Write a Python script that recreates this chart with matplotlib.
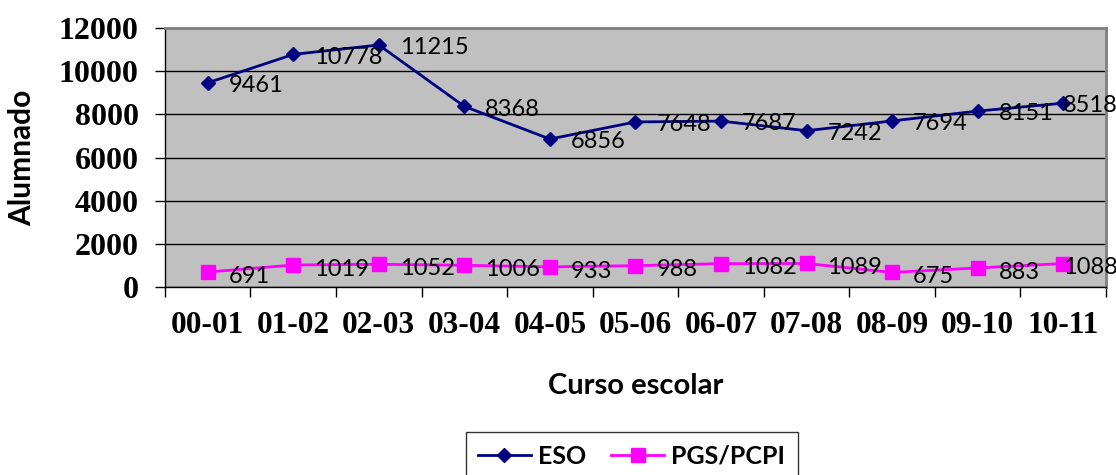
import matplotlib
matplotlib.use('Agg')
import matplotlib.pyplot as plt
import numpy as np

cursos = ['00-01', '01-02', '02-03', '03-04', '04-05', '05-06',
          '06-07', '07-08', '08-09', '09-10', '10-11']
eso = [9461, 10778, 11215, 8368, 6856, 7648, 7687, 7242, 7694, 8151, 8518]
pcpi = [691, 1019, 1052, 1006, 933, 988, 1082, 1089, 675, 883, 1088]

serif = ['Liberation Serif', 'DejaVu Serif']
sans = ['Lato', 'Open Sans', 'DejaVu Sans']

fig = plt.figure(figsize=(11.16, 4.75), dpi=100)
ax = fig.add_axes([0.1478, 0.3958, 0.991 - 0.1478, 0.941 - 0.3958])
ax.set_facecolor('#C0C0C0')

x = np.arange(len(cursos))
ax.plot(x, eso, color='#000080', lw=2, marker='D', ms=7, label='ESO', zorder=3)
ax.plot(x, pcpi, color='#FF00FF', lw=2, marker='s', ms=10, label='PGS/PCPI', zorder=3)

# etiquetas de datos (la ultima se corre a la izquierda para que quepa)
n = len(cursos)
for xi, v in zip(x, eso):
    dx = 0 if xi == n - 1 else 15
    ax.annotate(str(v), (xi, v), xytext=(dx, -2), textcoords='offset points',
                va='center', ha='left', fontsize=17, family=sans, zorder=4,
                annotation_clip=False)
for xi, v in zip(x, pcpi):
    dx = 0 if xi == n - 1 else 15
    ax.annotate(str(v), (xi, v), xytext=(dx, -3), textcoords='offset points',
                va='center', ha='left', fontsize=17, family=sans, zorder=4,
                annotation_clip=False)

ax.set_xlim(-0.5, n - 0.5)
ax.set_ylim(0, 12000)
ax.set_yticks(np.arange(0, 12001, 2000))
ax.yaxis.grid(True, color='black', lw=1)
ax.set_axisbelow(True)

ax.set_xticks(x)
ax.set_xticklabels(cursos)
ax.set_xticks(np.arange(-0.5, n), minor=True)
ax.tick_params(axis='x', which='major', length=0, pad=17)
ax.tick_params(axis='x', which='minor', length=7, width=1, direction='out')
ax.tick_params(axis='y', length=7, width=1, direction='out', pad=12)
for lab in ax.get_xticklabels():
    lab.set_family(serif)
    lab.set_fontweight('bold')
    lab.set_fontsize(22.5)
for lab in ax.get_yticklabels():
    lab.set_family(serif)
    lab.set_fontweight('bold')
    lab.set_fontsize(23)

for s in ['left', 'bottom']:
    ax.spines[s].set_color('black')
    ax.spines[s].set_linewidth(1)
for s in ['top', 'right']:
    ax.spines[s].set_color('#808080')
    ax.spines[s].set_linewidth(2)

ax.set_ylabel('Alumnado', family=sans, fontweight='bold', fontsize=21.5, labelpad=16)
ax.set_xlabel('Curso escolar', family=sans, fontweight='bold', fontsize=21, labelpad=24)

leg = fig.legend(loc='upper center', bbox_to_anchor=(0.566, 0.0905), ncol=2,
                 frameon=True, fancybox=False, edgecolor='black',
                 prop={'family': sans, 'weight': 'bold', 'size': 18},
                 handlelength=2.1, columnspacing=1.0, borderpad=0.5,
                 borderaxespad=0, handletextpad=0.3)
leg.get_frame().set_linewidth(1)

fig.savefig('out.png', dpi=100)
